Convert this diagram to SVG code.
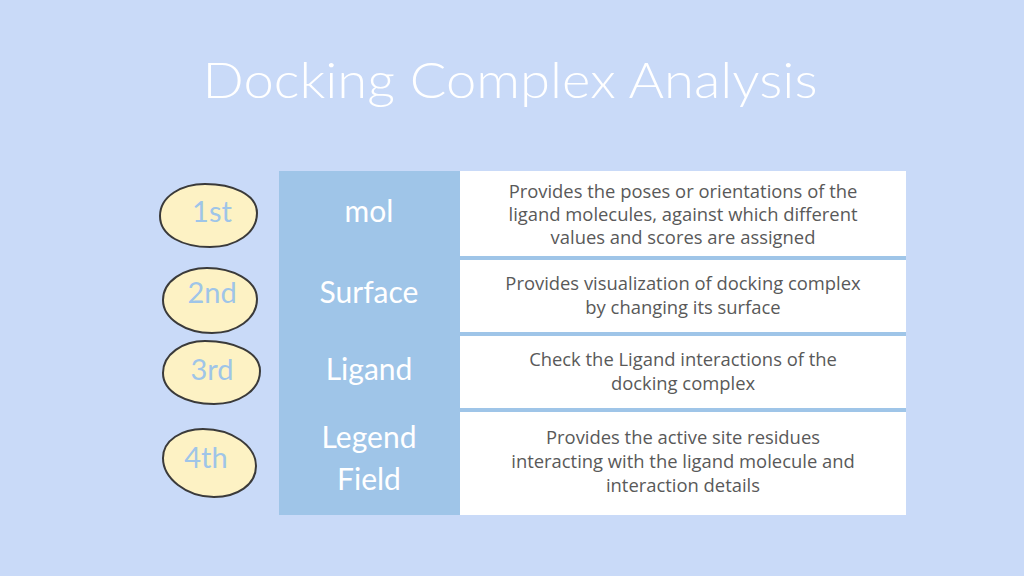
<svg xmlns="http://www.w3.org/2000/svg" width="1024" height="576" viewBox="0 0 1024 576">
  <style>
    .hand { font-family: "Lato", "Noto Sans", "DejaVu Sans", sans-serif; text-anchor: middle; font-weight: 400; }
    .title { font-size: 50px; fill: #ffffff; font-weight: 300; }
    .lbl { font-size: 30px; fill: #ffffff; }
    .ord { font-size: 29px; fill: #9fc5e8; }
    .desc { font-family: "Open Sans", "Noto Sans", "DejaVu Sans", sans-serif; font-size: 18.4px; fill: #595959; text-anchor: middle; }
    .oval { fill: #fdf2c4; stroke: #3a3a3a; stroke-width: 2; }
    .cell { fill: #ffffff; }
  </style>
  <rect x="0" y="0" width="1024" height="576" fill="#c9daf8"/>

  <text class="hand title" x="510" y="98" textLength="615" lengthAdjust="spacingAndGlyphs">Docking Complex Analysis</text>

  <g id="table">
    <rect x="279" y="171" width="627" height="344" fill="#9fc5e8"/>
    <rect class="cell" x="460" y="171" width="446" height="85"/>
    <rect class="cell" x="460" y="260" width="446" height="72"/>
    <rect class="cell" x="460" y="336" width="446" height="72"/>
    <rect class="cell" x="460" y="412" width="446" height="103"/>
  </g>

  <g id="row1">
    <path class="oval" d="M160,216 C160,196 182,184 205,184 C232,184 257,194 257,213 C257,233 236,247 210,247 C183,247 160,236 160,216 Z"/>
    <text class="hand ord" x="212" y="222">1st</text>
    <text class="hand lbl" x="369" y="222">mol</text>
    <text class="desc" x="683" y="198">Provides the poses or orientations of the</text>
    <text class="desc" x="683" y="221">ligand molecules, against which different</text>
    <text class="desc" x="683" y="244">values and scores are assigned</text>
  </g>

  <g id="row2">
    <path class="oval" d="M163,300 C163,281 184,268 207,268 C232,268 257,280 257,299 C257,319 236,333 212,333 C186,333 163,319 163,300 Z"/>
    <text class="hand ord" x="212" y="303">2nd</text>
    <text class="hand lbl" x="369" y="303">Surface</text>
    <text class="desc" x="683" y="290">Provides visualization of docking complex</text>
    <text class="desc" x="683" y="314">by changing its surface</text>
  </g>

  <g id="row3">
    <path class="oval" d="M163,373 C163,354 183,341 205,341 C234,341 260,352 260,371 C260,391 238,404 214,404 C186,404 163,392 163,373 Z"/>
    <text class="hand ord" x="212" y="380">3rd</text>
    <text class="hand lbl" x="369" y="380">Ligand</text>
    <text class="desc" x="683" y="366">Check the Ligand interactions of the</text>
    <text class="desc" x="683" y="390">docking complex</text>
  </g>

  <g id="row4">
    <path class="oval" d="M163,458 C163,440 182,429 203,429 C232,429 256,446 256,466 C256,485 237,497 214,497 C186,497 163,478 163,458 Z"/>
    <text class="hand ord" x="206" y="468">4th</text>
    <text class="hand lbl" x="369" y="448">Legend</text>
    <text class="hand lbl" x="369" y="490">Field</text>
    <text class="desc" x="683" y="444">Provides the active site residues</text>
    <text class="desc" x="683" y="468">interacting with the ligand molecule and</text>
    <text class="desc" x="683" y="492">interaction details</text>
  </g>

  <g id="connectors"></g>
</svg>
